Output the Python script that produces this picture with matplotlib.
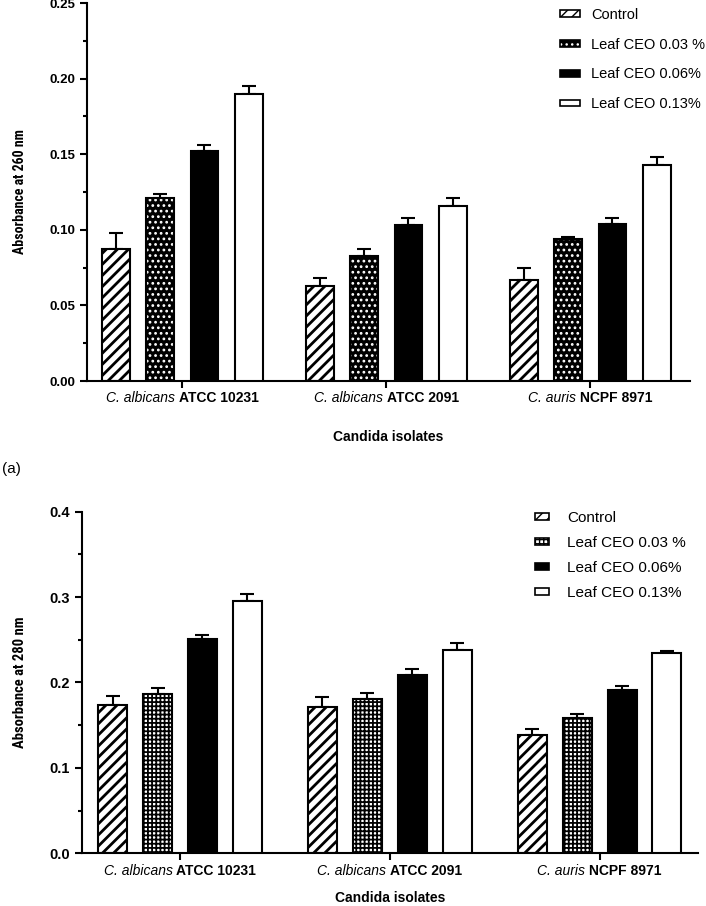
import numpy as np
import matplotlib
matplotlib.use('Agg')
import matplotlib.pyplot as plt
from matplotlib.patches import Patch
from matplotlib.legend_handler import HandlerTuple
from matplotlib.ticker import MultipleLocator
from matplotlib.offsetbox import TextArea, HPacker, AnnotationBbox
from matplotlib import font_manager

plt.rcParams['font.family'] = ['Liberation Sans', 'DejaVu Sans']

# ---------------- data ----------------
species = ['C. albicans', 'C. albicans', 'C. auris']
strains = ['ATCC 10231', 'ATCC 2091', 'NCPF 8971']
series = ['Control', 'Leaf CEO 0.03 %', 'Leaf CEO 0.06%', 'Leaf CEO 0.13%']

# (a) absorbance at 260 nm
a260_control = [0.087, 0.063, 0.067]
a260_leaf003 = [0.121, 0.083, 0.094]
a260_leaf006 = [0.152, 0.103, 0.104]
a260_leaf013 = [0.190, 0.116, 0.143]
a260_err_control = [0.011, 0.005, 0.008]
a260_err_leaf003 = [0.003, 0.004, 0.001]
a260_err_leaf006 = [0.004, 0.005, 0.004]
a260_err_leaf013 = [0.005, 0.005, 0.005]

# (b) absorbance at 280 nm
a280_control = [0.174, 0.171, 0.138]
a280_leaf003 = [0.186, 0.181, 0.159]
a280_leaf006 = [0.251, 0.209, 0.191]
a280_leaf013 = [0.295, 0.238, 0.235]
a280_err_control = [0.010, 0.012, 0.008]
a280_err_leaf003 = [0.007, 0.007, 0.004]
a280_err_leaf006 = [0.005, 0.007, 0.005]
a280_err_leaf013 = [0.009, 0.008, 0.002]

# ---------------- helpers ----------------
def pick_font(cands):
    names = {f.name for f in font_manager.fontManager.ttflist}
    for c in cands:
        if c in names:
            return c
    return 'Liberation Sans'

narrow = pick_font(['Liberation Sans Narrow', 'DejaVu Sans Condensed', 'Roboto Condensed',
                    'Open Sans Condensed', 'Noto Sans Condensed', 'Liberation Sans'])

# style: (face, hatch colour, hatch, hatch linewidth)
styles_top = [('white', 'black', '///', 2.0),
              ('black', 'white', '...', 1.2),
              ('black', 'black', None, 1.0),
              ('white', 'black', None, 1.0)]
styles_bot = [('white', 'black', '///', 2.0),
              ('white', 'black', '++++', 1.3),
              ('black', 'black', None, 1.0),
              ('white', 'black', None, 1.0)]

def draw_panel(ax, means, errs, styles, width, step, lab_fs):
    x = np.arange(len(strains))
    for i, (m, e, st) in enumerate(zip(means, errs, styles)):
        face, hc, hatch, hlw = st
        xi = x + (i - 1.5) * step
        if hatch:
            with plt.rc_context({'hatch.linewidth': hlw}):
                ax.bar(xi, m, width, color=face, edgecolor=hc, hatch=hatch,
                       linewidth=0, zorder=2)
            ax.bar(xi, m, width, fill=False, edgecolor='black', linewidth=1.5, zorder=3)
        else:
            ax.bar(xi, m, width, color=face, edgecolor='black', linewidth=1.5, zorder=3)
        ax.errorbar(xi, m, yerr=[np.zeros(len(e)), e], fmt='none', ecolor='black',
                    elinewidth=1.5, capsize=5, capthick=1.5, zorder=1)
    ax.set_xticks(x)
    ax.set_xticklabels([''] * len(x))
    for xi, sp, st in zip(x, species, strains):
        box = HPacker(children=[TextArea(sp, textprops=dict(fontsize=lab_fs, style='italic')),
                                TextArea(st, textprops=dict(fontsize=lab_fs, fontweight='bold'))],
                      align='baseline', pad=0, sep=2.8)
        ab = AnnotationBbox(box, (xi, 0), xycoords=('data', 'axes fraction'),
                            xybox=(0, -7.5), boxcoords='offset points',
                            box_alignment=(0.5, 1.0), frameon=False, pad=0,
                            annotation_clip=False)
        ax.add_artist(ab)
    for sp in ['top', 'right']:
        ax.spines[sp].set_visible(False)
    for sp in ['left', 'bottom']:
        ax.spines[sp].set_linewidth(1.5)
    ax.tick_params(axis='both', which='major', direction='out', length=5, width=1.5)
    ax.tick_params(axis='y', which='minor', direction='out', length=3, width=1.5)
    ax.tick_params(axis='x', which='minor', length=0)

def legend_handles(styles):
    hs = []
    for face, hc, hatch, hlw in styles:
        if hatch:
            with plt.rc_context({'hatch.linewidth': hlw}):
                p1 = Patch(facecolor=face, edgecolor=hc, hatch=hatch, linewidth=0)
            p2 = Patch(facecolor='none', edgecolor='black', linewidth=1.2)
            hs.append((p1, p2))
        else:
            hs.append(Patch(facecolor=face, edgecolor='black', linewidth=1.2))
    return hs

fig = plt.figure(figsize=(7.06, 9.06), dpi=100)

# ---------------- top panel ----------------
ax1 = fig.add_axes([87/706, 1-381/906, (690-87)/706, 378/906])
draw_panel(ax1, [a260_control, a260_leaf003, a260_leaf006, a260_leaf013],
           [a260_err_control, a260_err_leaf003, a260_err_leaf006, a260_err_leaf013],
           styles_top, 0.137, 0.216, 10)
ax1.set_xlim(-0.468, 2.488)
ax1.set_ylim(0, 0.25)
ax1.yaxis.set_major_locator(MultipleLocator(0.05))
ax1.yaxis.set_minor_locator(MultipleLocator(0.025))
ax1.set_yticks(ax1.get_yticks())
ax1.set_yticklabels([f'{v:.2f}' for v in ax1.get_yticks()], fontsize=9.5, fontweight='bold')
ax1.set_ylim(0, 0.25)
ax1.set_ylabel('Absorbance at 260 nm', fontsize=10, fontweight='bold',
               family=[narrow, 'Liberation Sans'])
ax1.yaxis.set_label_coords(-0.0995, 0.5)
ax1.set_xlabel('Candida isolates', fontsize=10, fontweight='bold')
ax1.xaxis.set_label_coords(0.5, -(430-381)/378)
fig.legend(legend_handles(styles_top), series, loc='upper left',
           bbox_to_anchor=(560/706, 1-8/906), frameon=False, fontsize=10.5,
           handlelength=1.37, handleheight=0.34, handletextpad=0.75,
           labelspacing=1.08, borderpad=0, borderaxespad=0,
           handler_map={tuple: HandlerTuple(ndivide=1, pad=0)})

fig.text(2/706, 1-469/906, '(a)', fontsize=11, va='center', ha='left')

# ---------------- bottom panel ----------------
ax2 = fig.add_axes([82/706, 1-853.3/906, (698-82)/706, 341.6/906])
draw_panel(ax2, [a280_control, a280_leaf003, a280_leaf006, a280_leaf013],
           [a280_err_control, a280_err_leaf003, a280_err_leaf006, a280_err_leaf013],
           styles_bot, 0.138, 0.214, 10)
ax2.set_xlim(-0.467, 2.469)
ax2.set_ylim(0, 0.4)
ax2.yaxis.set_major_locator(MultipleLocator(0.1))
ax2.yaxis.set_minor_locator(MultipleLocator(0.05))
ax2.set_yticks(ax2.get_yticks())
ax2.set_yticklabels([f'{v:.1f}' for v in ax2.get_yticks()], fontsize=10.5, fontweight='bold')
ax2.set_ylim(0, 0.4)
ax2.set_ylabel('Absorbance at 280 nm', fontsize=10.5, fontweight='bold',
               family=[narrow, 'Liberation Sans'])
ax2.yaxis.set_label_coords(-0.089, 0.5)
ax2.set_xlabel('Candida isolates', fontsize=10, fontweight='bold')
ax2.xaxis.set_label_coords(0.5, -(891-853.3)/341.6)
fig.legend(legend_handles(styles_bot), series, loc='upper left',
           bbox_to_anchor=(535/706, 1-511/906), frameon=False, fontsize=11,
           handlelength=0.9, handleheight=0.38, handletextpad=1.2,
           labelspacing=0.72, borderpad=0, borderaxespad=0,
           handler_map={tuple: HandlerTuple(ndivide=1, pad=0)})

fig.savefig('out.png', dpi=100)
